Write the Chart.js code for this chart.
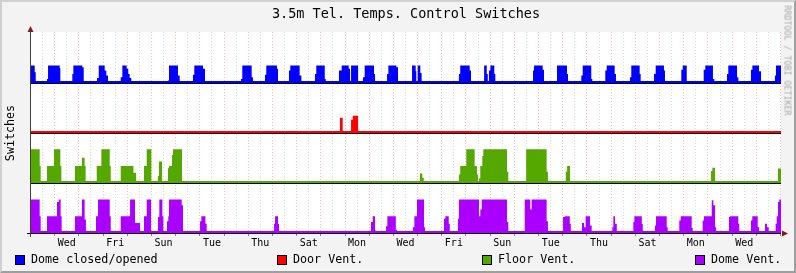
<!DOCTYPE html>
<html>
<head>
<meta charset="utf-8">
<script src="https://cdn.jsdelivr.net/npm/chart.js@4.4.1/dist/chart.umd.min.js"></script>
<style>
html, body { margin: 0; padding: 0; background: #f3f3f3; }
#wrap { position: relative; width: 796px; height: 273px; background: #f3f3f3; overflow: hidden;
        font-family: "DejaVu Sans Mono", monospace; color: #000; }
#frame { position: absolute; left: 0; top: 0; width: 796px; height: 273px; box-sizing: border-box;
         border-left: 2px solid #d0d0d0; border-top: 2px solid #d0d0d0;
         border-right: 2px solid #9e9e9e; border-bottom: 2px solid #9e9e9e; pointer-events: none; }
canvas { position: absolute; left: 0; top: 0; }
#title { position: absolute; left: 31px; width: 750px; top: 7px; text-align: center;
         font-size: 13.5px; line-height: 13.5px; white-space: pre; }
#ytitle { position: absolute; left: -40px; top: 126px; width: 100px; height: 14px; line-height: 14px;
          text-align: center; font-size: 11.7px; transform: rotate(-90deg); }
#mark { position: absolute; left: 732px; top: 56px; width: 110px; height: 9px; line-height: 9px;
        text-align: left; font-size: 8.3px; color: #a8a8a8; transform: rotate(90deg); white-space: pre; }
.leg { position: absolute; top: 253px; font-size: 11.7px; line-height: 13px; white-space: pre; }
.sw { position: absolute; top: 255px; width: 8px; height: 8px; border: 1px solid #000; }
</style>
</head>
<body>
<div id="wrap">
  <canvas id="chart" width="796" height="273"></canvas>
  <div id="title">3.5m Tel. Temps. Control Switches</div>
  <div id="ytitle">Switches</div>
  <div id="mark">RRDTOOL / TOBI OETIKER</div>
  <div id="legend"></div>
  <div id="frame"></div>
</div>
<script>
// time axis in hours, 0 = Tuesday 00:00
const labelHours = [36, 84, 132, 180, 228, 276, 324, 372, 420, 468, 516, 564, 612, 660, 708];
const dayLabels = ["Wed", "Fri", "Sun", "Tue", "Thu", "Sat", "Mon", "Wed", "Fri", "Sun", "Tue", "Thu", "Sat", "Mon", "Wed"];

const seriesNames = ["Dome closed/opened", "Door Vent.", "Floor Vent.", "Dome Vent."];
const seriesColors = ["#0000ff", "#ff0000", "#54a800", "#aa00ff"];
const seriesOffsets = [9, 6, 3, 0];

// [start hour, end hour, value]
const domeOpen = [
  [0.5,4.2,1],[4.2,5.2,0.6],
  [16.4,17.4,0.2],[17.4,29,1],[29,29.6,0.85],
  [41.5,42.5,0.5],[42.5,51.4,1],[51.4,52.8,0.9],
  [66,67.7,0.25],[67.7,73.6,1],[73.6,75.2,0.7],[75.2,76.9,0.4],
  [89.5,91.1,0.3],[91.1,95.4,1],[95.4,97,0.8],[97,98.4,0.5],[98.4,100,0.25],
  [136.4,137.4,0.1],[137.4,146.3,1],[146.3,148,0.4],
  [161.2,162.5,0.45],[162.5,171.1,1],[171.1,173.1,0.8],
  [208.8,210.1,0.2],[210.1,219.4,1],[219.4,220.7,0.3],
  [232.6,233.9,0.45],[233.9,244.5,1],[244.5,245.5,0.8],
  [256.4,257.7,0.7],[257.7,267,1],[267,268.7,0.4],
  [282.2,283.5,0.5],[283.5,291.9,1],[291.9,292.9,0.2],
  [306,308.7,0.7],[308.7,315.7,1],[315.7,317,0.8],[318,325,1],
  [329.8,331.5,0.3],[331.5,340.8,1],[340.8,341.8,0.5],
  [353.7,355,0.5],[355,363,1],[363,364.6,0.9],
  [378.5,382.1,1],[382.1,382.7,0.65],[384.1,386.7,1],[386.7,388,0.55],
  [425,426.3,0.5],[426.3,435.7,1],[435.7,437,0.7],
  [450,452.6,1],[452.6,453.6,0.5],[454.8,456.2,0.7],[456.2,460.1,1],[460.1,461.1,0.5],
  [498.5,499.5,0.7],[499.5,508.1,1],[508.1,509.4,0.75],
  [522.3,532.2,1],[532.2,533.2,0.5],
  [546.4,547.8,0.4],[547.8,556.3,1],[556.3,557.3,0.2],
  [570.2,571.6,0.7],[571.6,579.5,1],[579.5,580.8,0.5],
  [594.7,596,0.3],[596,604.3,1],[604.3,605.3,0.5],
  [618.5,620.2,0.5],[620.2,628.4,1],[628.4,629.4,0.7],
  [645.6,647,0.75],[647,651,1],
  [667.8,669.4,0.75],[669.4,677,1],[677,678.3,0.2],
  [690.9,692.2,0.5],[692.2,700.9,1],[700.9,702.2,0.3],
  [714.7,716.1,0.75],[716.1,722.7,1],[722.7,724.7,0.65],
  [738.5,739.5,0.4],[739.5,744.5,1]
];

const doorVent = [[307,309.7,0.88],[318,319.7,0.76],[319.7,325,1]];

const floorVent = [
  [0.5,9.1,2],[9.1,10.1,1],
  [16.4,23.3,1],[23.3,29.6,2],[29.6,30.6,1],
  [44.1,51,1],[51,53.7,1.5],[53.7,54.7,1],
  [65.7,70.3,1],[70.3,78.6,2],[78.6,79.6,1],
  [89.5,102.1,1],[102.1,104.8,0.6],
  [112.6,115.3,1],[115.3,119.9,2],
  [126.5,127.5,0.4],[127.5,130.5,1.27],
  [136.4,137.4,0.87],[137.4,140.4,1],[140.4,141.4,1.65],[141.4,150.3,2],
  [386.4,388.7,0.55],[388.7,390.1,0.3],
  [425,426.3,0.5],[426.3,432.3,1],[432.3,440.6,2],[440.6,442.9,1],[442.9,443.9,0.5],
  [444.9,446.2,0.25],[446.2,448.2,1],[448.2,449.2,1.6],[449.2,472.7,2],[472.7,474,0.65],
  [490.7,491.7,0.1],[491.7,512,2],[512,513.3,0.65],
  [531,532.3,0.65],[532.3,535.2,1],
  [675.1,676.4,0.7],[676.4,679,0.9],
  [741.5,744.5,0.85]
];

const domeVent = [
  [0.5,9.1,2],[9.1,10.1,1],
  [16.4,26.3,1],[26.3,28,1.85],[28,29.9,2],[29.9,30.9,1],
  [44.1,51,1],[51,53.7,2],[53.7,55,0.8],
  [65,67,1],[67,78.6,2],[78.6,79.6,1],
  [89.5,98.8,1],[98.8,103.7,2],[103.7,108.7,0.6],
  [112.6,115.3,1],[115.3,119.6,2],
  [126.5,127.8,0.95],[127.8,130.8,2],[130.8,131.8,1],
  [135.4,136.7,0.7],[136.7,137.4,1],[137.4,150,2],[150,151.3,1.65],
  [168.2,169.5,0.7],[169.5,173.5,1],[173.5,174.8,0.55],
  [241.6,242.6,0.55],[242.6,245.5,1],[245.5,246.5,0.55],
  [337.8,339.5,0.65],[339.5,341.8,1],[341.8,342.8,0.15],
  [352.7,354,0.4],[354,362.4,1],[362.4,363.6,0.2],
  [379.4,380.8,0.35],[380.8,383.4,1],[383.4,390.4,2],[390.4,391.4,0.35],
  [410.2,411.5,0.85],[411.5,414.9,1],[414.9,415.9,0.55],
  [424,425,0.85],[425,444.9,2],[444.9,446.2,1],[446.2,447.6,1.4],[447.6,472.7,2],[472.7,474,0.65],
  [489.7,490.4,0.15],[490.4,495.7,2],[495.7,497.1,1.4],[497.1,512,2],[512,513.3,0.7],
  [528.3,530,0.95],[530,535,1],[535,536,0.55],
  [547.1,549.1,0.6],[549.1,550.7,0.35],[550.7,555,1],[555,556.7,0.45],
  [577.2,578.2,0.35],[578.2,579.9,1],[579.9,581.6,0.55],
  [598,599,0.65],[599,606.4,1],[606.4,607.4,0.55],
  [619.5,620.5,0.45],[620.5,631.1,1],[631.1,632.1,0.35],
  [643.6,645,0.75],[645,655.9,1],[655.9,656.9,0.3],
  [666.8,668.1,0.75],[668.1,675.8,1],[675.8,677.4,1.95],[677.4,679.1,1.65],[679.1,680.1,0.35],
  [692.9,693.9,0.95],[693.9,702.1,1],[702.1,703.1,0.55],
  [714.7,716,0.75],[716,721.4,1],[721.4,722.7,0.35],
  [728.6,730.6,0.55],[730.6,732.3,0.35],
  [739.2,740.2,0.55],[740.2,741.5,1],[741.5,742.8,1.85],[742.8,744.5,2]
];

const seriesData = [domeOpen, doorVent, floorVent, domeVent];
const xMin = 0.5, xMax = 744.5;

// turn intervals into a closed outline, each band sitting on its own offset
function toPoints(intervals, off) {
  let pts = [{x: xMin, y: off}];
  intervals.forEach(([s, e, v]) => {
    pts.push({x: s, y: off}, {x: s, y: off + v}, {x: e, y: off + v}, {x: e, y: off});
  });
  pts.push({x: xMax, y: off});
  return pts;
}

let gridHours = [];
for (let h = 12; h <= 744; h += 12) gridHours.push(h);

// legend
const legendX = [15, 277, 482, 695];
let legHtml = "";
seriesNames.forEach((n, i) => {
  legHtml += '<div class="sw" style="left:' + legendX[i] + 'px;background:' + seriesColors[i] + '"></div>';
  legHtml += '<div class="leg" style="left:' + (legendX[i] + 16) + 'px">' + n + '</div>';
});
document.getElementById("legend").innerHTML = legHtml;

const bands = {
  id: "bands",
  beforeDraw(chart) {
    const a = chart.chartArea, ctx = chart.ctx;
    ctx.save();
    ctx.fillStyle = "#ffffff";
    ctx.fillRect(a.left, a.top, a.right - a.left, a.bottom - a.top);
    ctx.restore();
  },
  afterDraw(chart) {
    const a = chart.chartArea, ctx = chart.ctx, y = chart.scales.y;
    ctx.save();
    seriesOffsets.forEach((off, i) => {
      const py = Math.ceil(y.getPixelForValue(off));
      ctx.strokeStyle = seriesColors[i];
      ctx.lineWidth = 2;
      ctx.beginPath(); ctx.moveTo(a.left, py - 1); ctx.lineTo(a.right, py - 1); ctx.stroke();
      ctx.strokeStyle = "#000000";
      ctx.lineWidth = 1;
      ctx.beginPath(); ctx.moveTo(off === 0 ? a.left - 4 : a.left, py + 0.5); ctx.lineTo(a.right, py + 0.5); ctx.stroke();
    });
    // y axis
    const x0 = a.left - 0.5;
    ctx.lineWidth = 1;
    ctx.strokeStyle = "#404040";
    ctx.beginPath(); ctx.moveTo(x0, a.bottom + 4); ctx.lineTo(x0, a.top - 3); ctx.stroke();
    ctx.fillStyle = "#8b1a1a";
    ctx.beginPath(); ctx.moveTo(x0, a.top - 6); ctx.lineTo(x0 - 3, a.top); ctx.lineTo(x0 + 3, a.top); ctx.closePath(); ctx.fill();
    const yb = Math.ceil(y.getPixelForValue(0)) + 0.5;
    ctx.beginPath(); ctx.moveTo(a.right + 7, yb); ctx.lineTo(a.right + 1, yb - 3); ctx.lineTo(a.right + 1, yb + 3); ctx.closePath(); ctx.fill();
    ctx.restore();
  }
};

new Chart(document.getElementById("chart"), {
  type: "line",
  data: {
    datasets: seriesData.map((d, i) => ({
      label: seriesNames[i],
      data: toPoints(d, seriesOffsets[i]),
      backgroundColor: seriesColors[i],
      borderWidth: 0,
      pointRadius: 0,
      tension: 0,
      fill: {value: seriesOffsets[i]}
    }))
  },
  options: {
    responsive: false,
    animation: false,
    events: [],
    layout: {padding: {left: 31, top: 32, right: 15, bottom: 0}},
    plugins: {legend: {display: false}, title: {display: false}, tooltip: {enabled: false}},
    scales: {
      x: {
        type: "linear",
        min: xMin,
        max: xMax,
        z: 1,
        afterBuildTicks: s => { s.ticks = gridHours.map(v => ({value: v})); },
        afterFit: s => { s.height = 40; },
        grid: {
          color: c => (c.tick && c.tick.value % 24 === 0) ? "rgba(255,0,0,0.28)" : "rgba(0,0,0,0.15)",
          tickColor: c => (c.tick && c.tick.value % 24 === 0) ? "rgba(0,0,0,0.45)" : "rgba(0,0,0,0)",
          tickLength: 3,
          lineWidth: 1
        },
        border: {display: false, dash: [1, 2]},
        ticks: {
          autoSkip: false,
          maxRotation: 0,
          padding: 1,
          color: "#000",
          font: {family: "DejaVu Sans Mono", size: 10},
          callback: v => {
            const i = labelHours.indexOf(v);
            return i < 0 ? "" : dayLabels[i];
          }
        }
      },
      y: {
        display: false,
        min: 0,
        max: 12
      }
    }
  },
  plugins: [bands]
});
</script>
</body>
</html>
